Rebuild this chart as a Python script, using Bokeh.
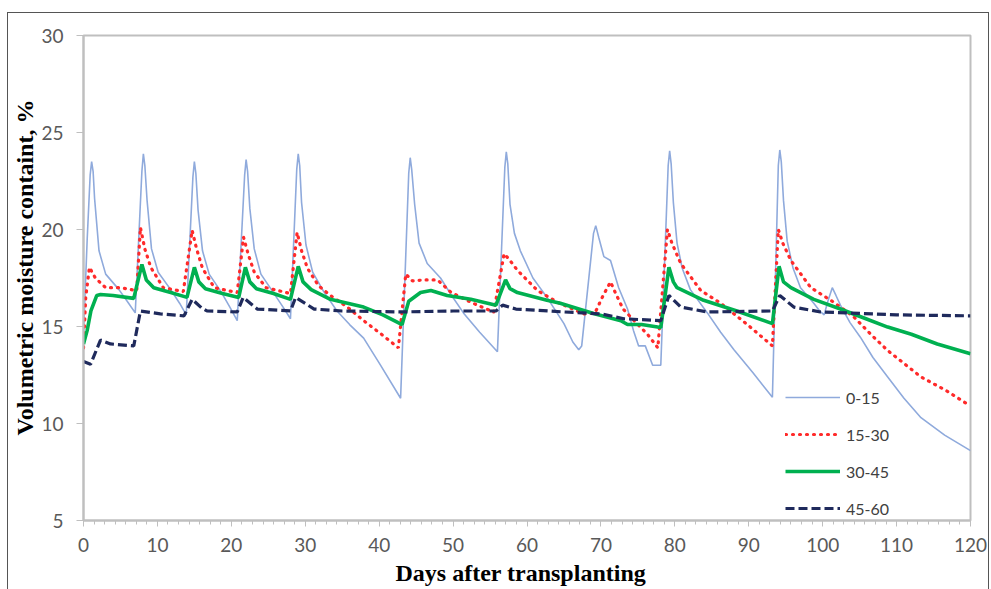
from bokeh.plotting import figure
from bokeh.embed import file_html
from bokeh.resources import INLINE
from bokeh.models import FixedTicker, Title

# ---- data ----
days_0_15 = [0, 0.5, 0.9, 1.1, 1.3, 1.5, 2.1, 3.0, 4.8, 6.1, 7.0,
             7.9, 8.1, 8.3, 8.6, 9.2, 10.1, 11.8, 13.0, 13.9,
             14.8, 15.0, 15.2, 15.5, 16.1, 17.0, 18.6, 19.8, 20.8,
             21.8, 22.0, 22.2, 22.5, 23.1, 24.0, 25.6, 27.0, 28.0,
             28.85, 29.05, 29.25, 29.5, 30.1, 31.0, 32.5, 34.3, 36.0, 37.9, 40.2, 42.9,
             44.0, 44.2, 44.4, 44.8, 45.4, 46.5, 48.3, 49.8, 51.4, 53.6, 56.0,
             57.0, 57.2, 57.4, 57.7, 58.3, 59.1, 60.8, 62.7, 65.0, 66.2, 67.0, 67.4,
             69.0, 69.3, 69.7, 70.4, 71.3, 72.4, 73.6, 74.4, 75.1, 76.0, 77.0, 78.1,
             79.1, 79.3, 79.5, 79.8, 80.3, 81.0, 82.1, 84.4, 86.2, 88.0, 90.6, 93.2,
             94.0, 94.2, 94.4, 94.7, 95.2, 96.0, 97.0, 98.8, 99.6, 100.2, 100.7, 101.3, 101.8, 102.4,
             103.7, 105.1, 106.8, 108.8, 111.0, 113.3, 116.5, 120]
vmc_0_15 = [14.6, 19.5, 22.8, 23.5, 23.0, 21.6, 18.9, 17.7, 16.9, 16.2, 15.7,
            23.0, 23.9, 23.3, 21.5, 19.0, 17.8, 16.9, 16.2, 15.6,
            22.7, 23.5, 22.9, 21.0, 18.9, 17.7, 16.8, 16.0, 15.3,
            22.8, 23.6, 23.0, 21.1, 19.0, 17.7, 16.8, 16.0, 15.4,
            23.1, 23.9, 23.3, 21.4, 19.2, 17.8, 16.8, 15.8, 15.1, 14.4, 13.0, 11.3,
            22.9, 23.7, 23.1, 21.3, 19.3, 18.25, 17.5, 16.6, 15.7, 14.7, 13.7,
            23.2, 24.0, 23.4, 21.3, 19.8, 18.9, 17.5, 16.5, 15.15, 14.2, 13.8, 14.0,
            19.8, 20.2, 19.6, 18.6, 18.4, 17.0, 15.9, 14.8, 14.0, 14.0, 13.0, 13.0,
            23.3, 24.05, 23.4, 21.4, 19.3, 18.0, 16.9, 15.7, 14.7, 13.8, 12.6, 11.35,
            23.3, 24.1, 23.5, 21.5, 19.4, 18.0, 17.0, 16.2, 15.8, 15.6, 16.3, 17.0, 16.6, 16.1,
            15.2, 14.45, 13.4, 12.4, 11.3, 10.3, 9.4, 8.6]

days_15_30 = [0, 0.3, 0.8, 1.6, 3.0, 5.0, 7.2,
              7.7, 8.3, 9.1, 10.8, 13.5,
              14.7, 15.3, 16.1, 17.7, 20.8,
              21.65, 22.3, 23.1, 24.7, 28.0,
              28.9, 29.5, 30.3, 31.8, 33.4, 35.7, 37.9, 40.3, 42.6,
              43.6, 44.5, 46.0, 47.9, 49.7, 52.4, 55.5,
              56.9, 57.5, 58.7, 61.4, 64.1, 67.7, 69.2, 70.3, 71.3, 72.0, 73.0, 74.5, 76.3, 77.7,
              79.0, 79.6, 80.8, 83.5, 86.2, 89.8, 93.2,
              94.0, 94.6, 95.7, 98.4, 101.5, 104.2, 106.5, 108.8, 113.3, 116.7, 120]
vmc_15_30 = [13.9, 16.5, 18.05, 17.5, 17.0, 17.0, 16.85,
             20.1, 19.0, 18.05, 17.0, 16.8,
             19.95, 19.0, 18.0, 17.0, 16.75,
             19.6, 18.7, 17.8, 17.0, 16.7,
             19.85, 18.9, 18.0, 17.1, 16.6, 16.0, 15.3, 14.6, 13.9,
             17.7, 17.35, 17.4, 17.4, 16.77, 16.25, 15.74,
             18.75, 18.5, 17.9, 16.86, 16.25, 15.65, 15.7, 16.6, 17.3, 16.7, 15.9, 15.3, 14.6, 13.9,
             20.0, 19.3, 18.25, 16.86, 16.2, 15.1, 14.0,
             20.0, 19.3, 18.4, 17.0, 16.25, 15.5, 14.6, 13.76, 12.4, 11.7, 10.9]

days_30_45 = [0, 0.5, 1.0, 1.8, 2.3, 4.0, 6.8,
              7.9, 8.5, 9.5, 11.8, 14.0,
              15.0, 15.6, 16.5, 18.8, 21.0,
              21.9, 22.5, 23.4, 25.7, 28.0,
              29.05, 29.7, 30.8, 33.4, 37.9, 40.5, 43.1,
              44.0, 45.6, 47.0, 49.2, 52.4, 55.8,
              57.1, 57.7, 58.7, 62.7, 64.5, 69.0, 72.7, 73.6, 75.5, 78.1,
              79.2, 79.8, 80.3, 83.9, 88.4, 93.2,
              94.1, 94.7, 95.7, 98.8, 102.4, 105.5, 108.8, 112.0, 115.5, 120]
vmc_30_45 = [14.1, 14.8, 15.8, 16.6, 16.65, 16.6, 16.45,
             18.2, 17.4, 17.0, 16.75, 16.5,
             18.05, 17.3, 16.95, 16.7, 16.5,
             18.05, 17.3, 16.95, 16.7, 16.4,
             18.1, 17.3, 16.9, 16.4, 16.0, 15.6, 15.1,
             16.3, 16.75, 16.86, 16.6, 16.4, 16.1,
             17.4, 16.95, 16.75, 16.35, 16.2, 15.67, 15.3, 15.1, 15.1, 14.95,
             18.05, 17.3, 17.0, 16.35, 15.8, 15.15,
             18.1, 17.3, 17.0, 16.4, 15.9, 15.45, 14.97, 14.6, 14.1, 13.6]

days_45_60 = [0, 0.95, 2.3, 3.65, 6.8, 7.7, 10.4, 13.6,
              14.7, 16.0, 16.7, 20.8,
              21.6, 23.5, 28.0,
              28.7, 31.2, 35.0, 43.0, 50.0, 55.8,
              56.7, 58.5, 65.0, 70.0, 73.1, 78.1,
              79.2, 80.8, 84.4, 93.2,
              94.2, 96.1, 99.7, 110.0, 120]
vmc_45_60 = [13.2, 13.05, 14.3, 14.1, 14.0, 15.8, 15.65, 15.55,
             16.4, 15.95, 15.8, 15.75,
             16.5, 15.9, 15.8,
             16.5, 15.9, 15.8, 15.75, 15.8, 15.8,
             16.1, 15.9, 15.75, 15.65, 15.4, 15.3,
             16.6, 16.0, 15.75, 15.8,
             16.6, 16.0, 15.75, 15.6, 15.55]

series_names = ["0-15", "15-30", "30-45", "45-60"]
x_ticks = [0, 10, 20, 30, 40, 50, 60, 70, 80, 90, 100, 110, 120]
y_ticks = [5, 10, 15, 20, 25, 30]
x_title = "Days after transplanting"
y_title = "Volumetric moisture containt, %"

# ---- figure ----
p = figure(width=982, height=590, x_range=(0, 120), y_range=(5, 30),
           output_backend="svg", toolbar_location=None,
           min_border_left=75, min_border_right=20,
           min_border_top=22, min_border_bottom=83)
p.margin = (12, 0, 0, 7)
p.styles = {"border": "1px solid #555555"}
p.background_fill_color = "white"
p.border_fill_color = "white"
p.outline_line_color = "#BFBFBF"
p.outline_line_width = 2
p.xgrid.visible = False
p.ygrid.visible = False

p.line(days_0_15, vmc_0_15, line_color="#8FAADC", line_width=1.6,
       legend_label=series_names[0])
p.line(days_15_30, vmc_15_30, line_color="#FF2A2A", line_width=3.2,
       line_dash="1 6", line_cap="round", legend_label=series_names[1])
p.line(days_30_45, vmc_30_45, line_color="#00B050", line_width=3.6,
       legend_label=series_names[2])
p.line(days_45_60, vmc_45_60, line_color="#1F2A5C", line_width=3.2,
       line_dash="9 4", legend_label=series_names[3])

tick_font = "Lato"
p.xaxis.ticker = FixedTicker(ticks=x_ticks,
                             minor_ticks=[i * 10 / 7 for i in range(0, 85)])
p.yaxis.ticker = FixedTicker(ticks=y_ticks, minor_ticks=[])
for ax in (p.xaxis[0], p.yaxis[0]):
    ax.axis_line_color = "#BFBFBF"
    ax.axis_line_width = 2
    ax.major_tick_line_color = "#BFBFBF"
    ax.minor_tick_line_color = "#BFBFBF"
    ax.major_tick_in = 0
    ax.minor_tick_in = 0
    ax.major_label_text_font = tick_font
    ax.major_label_text_color = "#595959"
    ax.major_label_text_font_size = "19px"
    ax.axis_label = None

p.xaxis.major_tick_out = 6
p.xaxis.minor_tick_out = 4
p.yaxis.major_tick_out = 7
p.yaxis.minor_tick_out = 0
p.xaxis.major_label_standoff = 11
p.yaxis.major_label_standoff = 13

ytitle = Title(text=y_title, align="left", offset=85, standoff=2,
               text_font="Liberation Serif", text_font_style="bold",
               text_font_size="24px", text_color="#000000")
p.add_layout(ytitle, "left")
xtitle = Title(text=x_title, align="left", offset=312, standoff=6,
               text_font="Liberation Serif", text_font_style="bold",
               text_font_size="24px", text_color="#000000")
p.add_layout(xtitle, "below")

leg = p.legend[0]
leg.location = (702, 2)
leg.background_fill_alpha = 0
leg.border_line_alpha = 0
leg.padding = 0
leg.margin = 0
leg.glyph_width = 55
leg.glyph_height = 20
leg.label_height = 20
leg.spacing = 17
leg.label_standoff = 6
leg.label_text_font = tick_font
leg.label_text_font_size = "16px"
leg.label_text_color = "#404040"

open("out.html", "w").write(file_html(p, INLINE))
